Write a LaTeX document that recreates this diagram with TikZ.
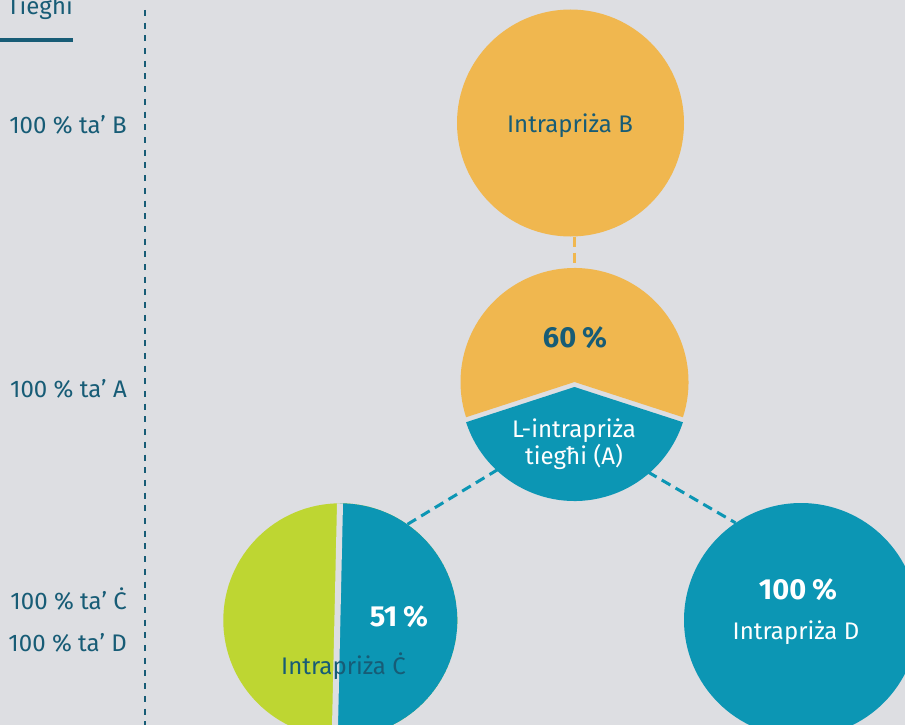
\documentclass[tikz,border=0pt]{standalone}
\usepackage{fontspec}
\setmainfont{Fira Sans}
\usepackage{tikz}
\usetikzlibrary{positioning}
\definecolor{bggrey}{RGB}{221,222,226}
\definecolor{firmgold}{RGB}{240,183,79}
\definecolor{firmblue}{RGB}{12,150,180}
\definecolor{firmgreen}{RGB}{190,214,50}
\definecolor{inktxt}{RGB}{23,92,118}

\begin{document}
\begin{tikzpicture}[
			x = 1pt, y = 1pt,
			txt/.style = {inner sep=0pt, font=\fontsize{24}{23}\selectfont},
			pct/.style = {inner sep=0pt, font=\fontsize{29}{29}\selectfont\bfseries},
			lbl/.style = {text=inktxt, inner sep=0pt, anchor=base east, font=\fontsize{24}{24}\selectfont},
			ring/.style = {circle, inner sep=0pt, minimum size=234pt},
			link/.style = {line width=3pt, dash pattern=on 10pt off 6pt}
			]

			\useasboundingbox (0,0) rectangle (905,-725);
			\clip (0,0) rectangle (905,-725);
			\fill[bggrey] (0,0) rectangle (905,-725);

			\node[anchor=base west, inner sep=0pt, text=inktxt, font=\fontsize{24}{24}\selectfont] (head) at (7,-15) {Tiegħi};
			\draw[inktxt, line width=3.5pt] (0,-40) -- (head.east |- 0,-40);
			\draw[inktxt, line width=2pt, dash pattern=on 6pt off 6.7pt] (144.5,-10) -- (144.5,-725);

			\node[lbl] (ownB) at (127,-133) {100 \% ta’ B};
			\node[lbl] (ownA) at (127,-397) {100 \% ta’ A};
			\node[lbl] (ownC) at (127,-609) {100 \% ta’ Ċ};
			\node[lbl] (ownD) at (127,-651) {100 \% ta’ D};

			\node[ring, minimum size=227pt, fill=firmgold] (B) at (570.5,-123) {};
			\node[txt, text=inktxt] (nameB) at (570,-126) {Intrapriża B};

			\node[ring, minimum size=228pt] (A) at (574.5,-384.5) {};
			\fill[firmgold] (574.5,-382) -- ++(-18:114) arc[start angle=-18, end angle=198, radius=114] -- cycle;
			\fill[firmblue] (574.5,-387) -- ++(198:114) arc[start angle=198, end angle=342, radius=114] -- cycle;
			\node[pct, text=inktxt] (shareA) at (575,-338) {60\hspace{0.2em}\%};
			\node[txt, text=white, align=center] (nameA) at (574,-444) {L-intrapriża\\tiegħi (A)};

			\node[ring] (C) at (340.3,-620.3) {};
			\begin{scope}
				\clip (C.center) circle[radius=117];
				\fill[firmgreen] (C.center) circle[radius=117];
				\fill[firmblue] (340.3,-490) -- (334.7,-740) -- (470,-740) -- (470,-490) -- cycle;
				\draw[bggrey, line width=6pt] (340.3,-490) -- (334.7,-740);
			\end{scope}
			\node[pct, text=white] (shareC) at (399,-617) {51\hspace{0.2em}\%};
			\node[txt, text=inktxt] (nameC) at (343.5,-666) {Intrapriża Ċ};

			\node[ring, fill=firmblue] (D) at (801,-620) {};
			\node[pct, text=white] (shareD) at (798,-590) {100\hspace{0.2em}\%};
			\node[txt, text=white] (nameD) at (796,-633) {Intrapriża D};

			\draw[link, firmgold] (B.south -| A.north) -- (A.north);
			\draw[link, firmblue] (A.-132) -- (C.55);
			\draw[link, firmblue] (A.-50) -- (D.124);

		\end{tikzpicture}
\end{document}
